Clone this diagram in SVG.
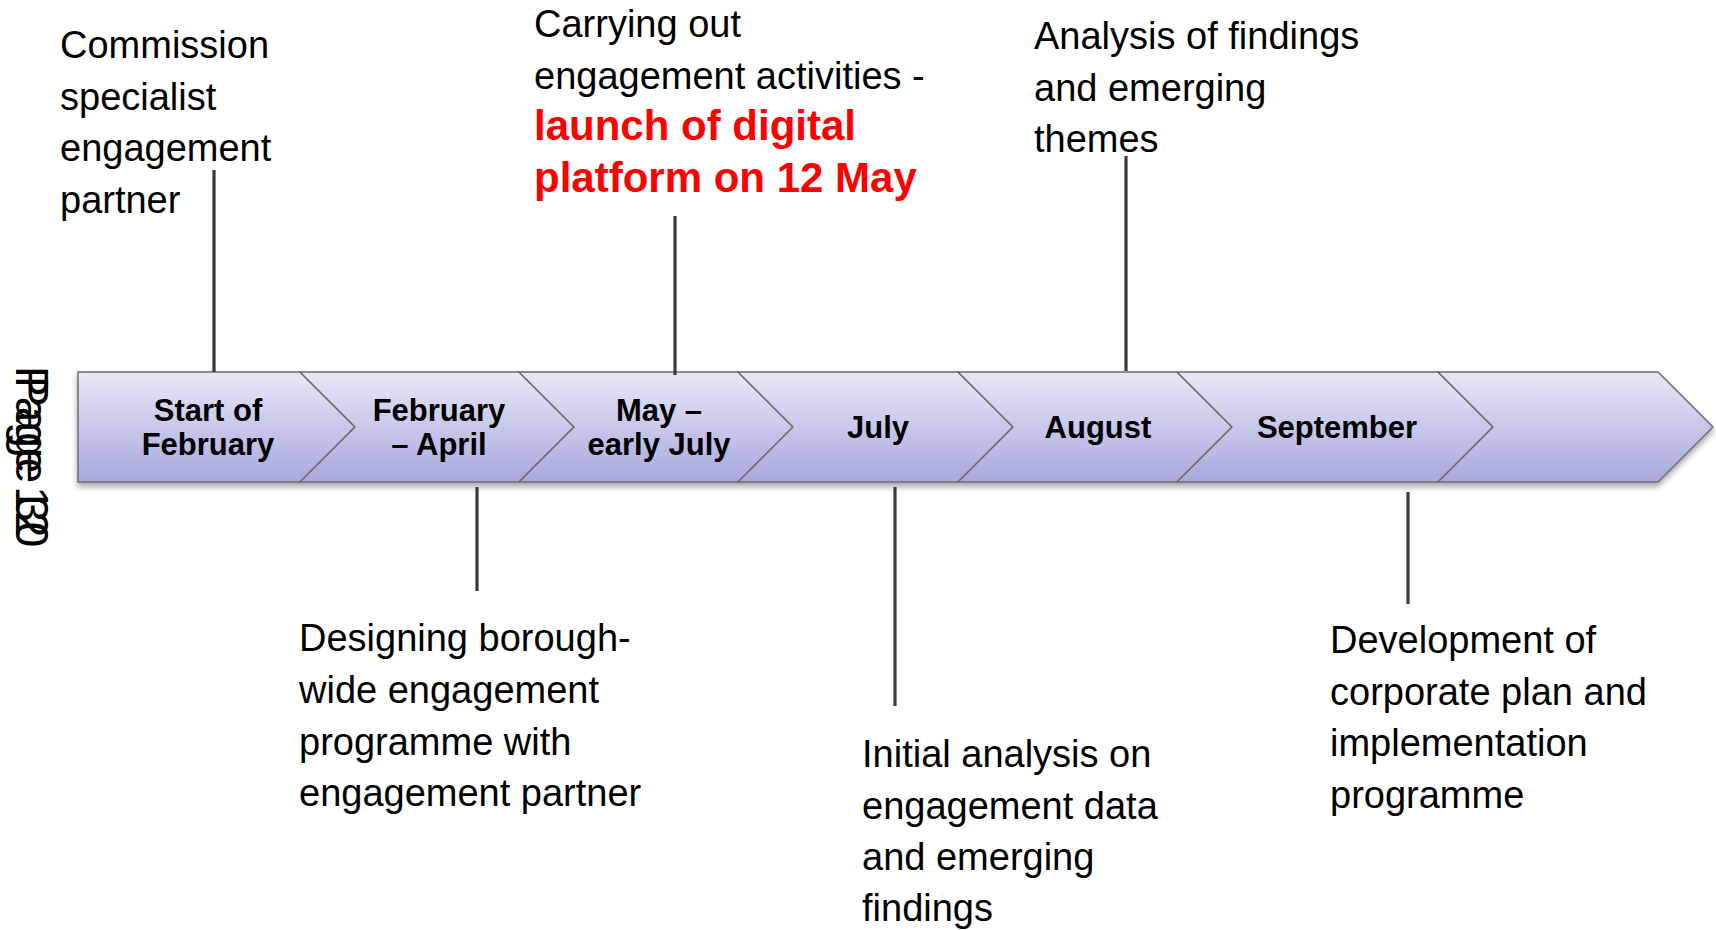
<svg xmlns="http://www.w3.org/2000/svg" width="1716" height="930" viewBox="0 0 1716 930">
<defs>
<linearGradient id="g" x1="0" y1="0" x2="0" y2="1">
<stop offset="0" stop-color="#e8e8f6"/>
<stop offset="1" stop-color="#a8a8df"/>
</linearGradient>
<filter id="sh" x="-5%" y="-20%" width="110%" height="150%">
<feDropShadow dx="0" dy="4" stdDeviation="3" flood-color="#000" flood-opacity="0.35"/>
</filter>
</defs>
<style>
.seg{fill:url(#g);stroke:#6e6e6e;stroke-width:1.5;stroke-linejoin:miter}
.lbl{font-family:"Liberation Sans",Arial,sans-serif;font-weight:bold;font-size:31px;fill:#000;text-anchor:middle}
.txt{font-family:"Liberation Sans",Arial,sans-serif;font-size:38px;fill:#000}
.red{font-family:"Liberation Sans",Arial,sans-serif;font-size:42px;font-weight:bold;fill:#ff0000}
.con{stroke:#3a3a3a;stroke-width:3.2;fill:none}
.pg{font-family:"Liberation Sans",Arial,sans-serif;font-size:46px;fill:#000}
</style>
<rect width="1716" height="930" fill="#fff"/>

<g id="band" filter="url(#sh)">
<polygon class="seg" points="78,372 300,372 355,427 300,482 78,482"/>
<polygon class="seg" points="300,372 519,372 574,427 519,482 300,482 355,427"/>
<polygon class="seg" points="519,372 738,372 793,427 738,482 519,482 574,427"/>
<polygon class="seg" points="738,372 958,372 1013,427 958,482 738,482 793,427"/>
<polygon class="seg" points="958,372 1177,372 1232,427 1177,482 958,482 1013,427"/>
<polygon class="seg" points="1177,372 1438,372 1493,427 1438,482 1177,482 1232,427"/>
<polygon class="seg" points="1438,372 1658,372 1713,427 1658,482 1438,482 1493,427"/>
</g>

<g id="seg-start">
<text class="lbl" x="208" y="421">Start of</text>
<text class="lbl" x="208" y="455">February</text>
</g>
<g id="seg-febapr">
<text class="lbl" x="439" y="421">February</text>
<text class="lbl" x="439" y="455">– April</text>
</g>
<g id="seg-may">
<text class="lbl" x="659" y="421">May –</text>
<text class="lbl" x="659" y="455">early July</text>
</g>
<g id="seg-july"><text class="lbl" x="878" y="438">July</text></g>
<g id="seg-august"><text class="lbl" x="1098" y="438">August</text></g>
<g id="seg-september"><text class="lbl" x="1337" y="438">September</text></g>

<g id="connectors">
<line class="con" x1="214" y1="170" x2="214" y2="372"/>
<line class="con" x1="477" y1="487" x2="477" y2="591"/>
<line class="con" x1="675" y1="216" x2="675" y2="375"/>
<line class="con" x1="895" y1="487" x2="895" y2="706"/>
<line class="con" x1="1126" y1="156" x2="1126" y2="371"/>
<line class="con" x1="1408" y1="492" x2="1408" y2="604"/>
</g>

<g id="note-commission">
<text class="txt" x="60" y="58">Commission</text>
<text class="txt" x="60" y="110">specialist</text>
<text class="txt" x="60" y="161">engagement</text>
<text class="txt" x="60" y="213">partner</text>
</g>
<g id="note-carrying">
<text class="txt" x="534" y="37">Carrying out</text>
<text class="txt" x="534" y="89">engagement activities -</text>
<text class="red" x="534" y="140">launch of digital</text>
<text class="red" x="534" y="192">platform on 12 May</text>
</g>
<g id="note-analysis">
<text class="txt" x="1034" y="49">Analysis of findings</text>
<text class="txt" x="1034" y="101">and emerging</text>
<text class="txt" x="1034" y="152">themes</text>
</g>
<g id="note-designing">
<text class="txt" x="299" y="651">Designing borough-</text>
<text class="txt" x="299" y="703">wide engagement</text>
<text class="txt" x="299" y="755">programme with</text>
<text class="txt" x="299" y="806">engagement partner</text>
</g>
<g id="note-initial">
<text class="txt" x="862" y="767">Initial analysis on</text>
<text class="txt" x="862" y="819">engagement data</text>
<text class="txt" x="862" y="870">and emerging</text>
<text class="txt" x="862" y="921">findings</text>
</g>
<g id="note-development">
<text class="txt" x="1330" y="653">Development of</text>
<text class="txt" x="1330" y="705">corporate plan and</text>
<text class="txt" x="1330" y="756">implementation</text>
<text class="txt" x="1330" y="808">programme</text>
</g>

<g id="page-stamp">
<text class="pg" transform="translate(16,366) rotate(90)">Page 12</text>
<text class="pg" transform="translate(16,376) rotate(90)">Page 30</text>
</g>
</svg>
